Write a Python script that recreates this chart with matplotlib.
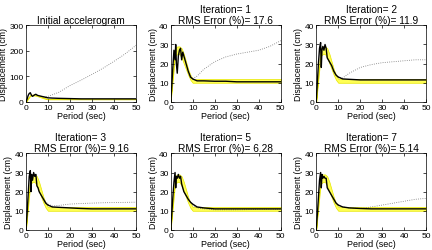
import numpy as np
import matplotlib.pyplot as plt

plt.rcParams['font.family'] = ['Liberation Sans', 'DejaVu Sans']

# target band (yellow)
band_T = [0, 1, 2, 3, 4, 5, 6, 7, 8, 9, 10, 15, 20, 30, 40, 50]
band_hi = [0, 16, 28, 29, 29, 28, 25, 21, 17, 14, 12, 12, 12, 12, 12, 12]
band_lo = [0, 12, 24, 25, 25, 23, 20, 17, 14, 11.5, 10, 10, 10, 10, 10, 10]

# black spectrum line
T = [0, 0.5, 1, 1.5, 2, 2.3, 2.6, 3, 3.5, 4, 4.5, 5, 5.5, 6, 7, 8, 9, 10,
     12, 15, 20, 25, 30, 40, 50]
black_0 = [0, 10, 25, 33, 36, 30, 25, 22, 25, 28, 30, 27, 25, 24, 22, 20, 18, 16,
           15, 14, 13, 12, 12, 12, 12]
black_1 = [0, 8, 18, 27, 22, 30, 20, 15, 24, 27, 28, 22, 26, 24, 20, 16, 13, 12,
           11, 11, 10.8, 10.8, 10.5, 10.5, 10.5]
black_2 = [0, 10, 20, 28, 31, 18, 27, 29, 27, 30, 28, 23, 22, 21, 19, 16, 14, 13,
           12, 11.8, 11.5, 11.5, 11.5, 11.5, 11.5]
black_3 = [0, 8, 18, 28, 31, 20, 29, 26, 30, 28, 29, 23, 22, 20, 18, 16, 14, 13,
           12, 11.8, 11.5, 11.2, 11, 11, 11]
black_5 = [0, 8, 17, 25, 30, 22, 28, 27, 29, 27, 28, 24, 22, 20, 18, 16, 14.5, 13.5,
           12, 11.5, 11, 11, 11, 11, 11]
black_7 = [0, 8, 17, 26, 30, 22, 29, 27, 28, 27, 27, 22, 21, 20, 18, 16, 14, 13,
           12, 11.5, 11.2, 11, 11, 11, 11]

# dotted line
dot_T = [8, 10, 12, 15, 20, 25, 30, 35, 40, 45, 50]
dot_0 = [20, 22, 28, 38, 64, 85, 108, 132, 159, 188, 222]
dot_1 = [16, 12, 13.5, 17, 21, 23.5, 25, 26, 27, 29, 32]
dot_2 = [16, 13, 12.5, 15, 18, 19.5, 20.5, 21, 21.5, 22, 22]
dot_3 = [16, 13.5, 12.5, 12.8, 13.5, 13.8, 14, 14.2, 14.3, 14.4, 14.5]
dot_5 = [16, 13, 11.5, 11, 10.5, 10.5, 10.5, 10.6, 10.8, 10.8, 10.8]
dot_7 = [16, 13, 12, 11.5, 11.2, 12, 13, 14, 15, 16, 16.5]

titles = ['Initial accelerogram',
          'Iteration= 1\nRMS Error (%)= 17.6',
          'Iteration= 2\nRMS Error (%)= 11.9',
          'Iteration= 3\nRMS Error (%)= 9.16',
          'Iteration= 5\nRMS Error (%)= 6.28',
          'Iteration= 7\nRMS Error (%)= 5.14']
blacks = [black_0, black_1, black_2, black_3, black_5, black_7]
dots = [dot_0, dot_1, dot_2, dot_3, dot_5, dot_7]

fig = plt.figure(figsize=(4.32, 2.51), dpi=100)
lefts = [0.06, 0.395, 0.732]
bottoms = [0.59, 0.08]

for i in range(6):
    ax = fig.add_axes([lefts[i % 3], bottoms[i // 3], 0.255, 0.305])
    ax.fill_between(band_T, band_lo, band_hi, color='#ffff55', edgecolor='#e6e600',
                    linewidth=0.5)
    ax.plot(dot_T, dots[i], ':', color='#777777', linewidth=0.6)
    ax.plot(T, blacks[i], '-', color='black', linewidth=1.0)
    ax.set_xlim(0, 50)
    ax.set_xticks([0, 10, 20, 30, 40, 50])
    if i == 0:
        ax.set_ylim(0, 300)
        ax.set_yticks([0, 100, 200, 300])
    else:
        ax.set_ylim(0, 40)
        ax.set_yticks([0, 10, 20, 30, 40])
    ax.tick_params(direction='in', length=2, width=0.5, labelsize=6, pad=1.5,
                   top=True, right=True)
    for s in ax.spines.values():
        s.set_linewidth(0.5)
    ax.set_xlabel('Period (sec)', fontsize=6.5, labelpad=0)
    ax.set_ylabel('Displacement (cm)', fontsize=6.3, labelpad=1)
    ax.set_title(titles[i], fontsize=7.3, pad=2, linespacing=1.1)

fig.savefig('out.png', dpi=100)
